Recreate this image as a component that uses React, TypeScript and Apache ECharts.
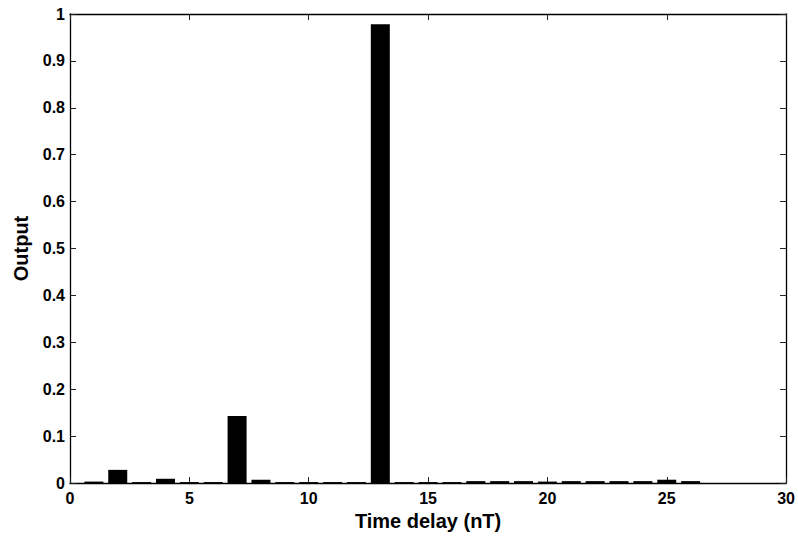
import React, { useEffect, useRef } from "react";
import * as echarts from "echarts";

const delays = [1, 2, 3, 4, 5, 6, 7, 8, 9, 10, 11, 12, 13, 14, 15, 16, 17, 18, 19, 20, 21, 22, 23, 24, 25, 26];
const outputs = [0.003, 0.028, 0.002, 0.009, 0.002, 0.002, 0.143, 0.007, 0.002, 0.002, 0.002, 0.002, 0.978, 0.002, 0.002, 0.002, 0.004, 0.004, 0.004, 0.003, 0.004, 0.004, 0.004, 0.004, 0.007, 0.004];
const xLabel = "Time delay (nT)";
const yLabel = "Output";

const FONT = "Liberation Sans, Arial, Helvetica, sans-serif";

export default function App() {
  const ref = useRef<HTMLDivElement>(null);
  useEffect(() => {
    if (!ref.current) return;
    const chart = echarts.init(ref.current, undefined, { renderer: "svg" });
    const axisLine = { show: true, onZero: false, lineStyle: { color: "#000", width: 1.3 } };
    const tick = { show: true, inside: true, length: 6, lineStyle: { color: "#222", width: 1 } };
    const label = { color: "#000", fontFamily: FONT, fontWeight: "bold" as const, fontSize: 16 };
    const nameStyle = { color: "#000", fontFamily: FONT, fontWeight: "bold" as const, fontSize: 20 };
    chart.setOption({
      animation: false,
      backgroundColor: "#fff",
      grid: { left: 70, right: 11, top: 14, bottom: 53, containLabel: false },
      xAxis: [
        {
          type: "value",
          min: 0,
          max: 30,
          interval: 5,
          position: "bottom",
          axisLine,
          axisTick: tick,
          splitLine: { show: false },
          axisLabel: { ...label, margin: 7 },
          name: xLabel,
          nameLocation: "middle",
          nameGap: 28,
          nameTextStyle: nameStyle,
        },
        {
          type: "value",
          min: 0,
          max: 30,
          interval: 5,
          position: "top",
          axisLine,
          axisTick: tick,
          splitLine: { show: false },
          axisLabel: { show: false },
        },
      ],
      yAxis: [
        {
          type: "value",
          min: 0,
          max: 1,
          interval: 0.1,
          position: "left",
          axisLine,
          axisTick: tick,
          splitLine: { show: false },
          axisLabel: { ...label, margin: 5 },
          name: yLabel,
          nameLocation: "middle",
          nameGap: 39,
          nameTextStyle: nameStyle,
        },
        {
          type: "value",
          min: 0,
          max: 1,
          interval: 0.1,
          position: "right",
          axisLine,
          axisTick: tick,
          splitLine: { show: false },
          axisLabel: { show: false },
        },
      ],
      series: [
        {
          type: "bar",
          xAxisIndex: 0,
          yAxisIndex: 0,
          barWidth: 19,
          data: delays.map((d, i) => [d, outputs[i]]),
          itemStyle: { color: "#000" },
        },
      ],
    });
    return () => chart.dispose();
  }, []);
  return (
    <div
      ref={ref}
      style={{ position: "fixed", left: 0, top: 0, width: 798, height: 536 }}
    />
  );
}
